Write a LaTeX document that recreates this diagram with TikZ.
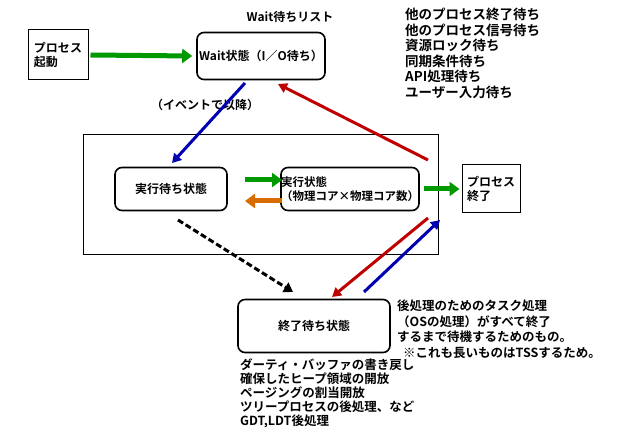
\documentclass[tikz,border=0pt]{standalone}
\usepackage{fontspec}
\setmainfont{Noto Sans CJK JP}[BoldFont={* Bold}]
\usetikzlibrary{arrows.meta}
\begin{document}
\begin{tikzpicture}[x=1pt,y=-1pt,font=\bfseries\fontsize{12}{14}\selectfont,
  sq/.style={draw,line width=1pt,align=left,inner sep=0pt},
  rb/.style={draw,line width=1.6pt,rounded corners=7pt,inner sep=0pt},
  fat/.style={line width=5pt,-{Triangle[length=10pt,width=14pt]}},
  thin/.style={line width=3pt,-{Triangle[length=9pt,width=10pt]}},
  txt/.style={align=left,anchor=north west,inner sep=0pt}]
\useasboundingbox (0,0) rectangle (640,427);
\draw[line width=1pt] (83,135) rectangle (438,255);
\node[sq,minimum width=60pt,minimum height=50pt] (start) at (58,55) {プロセス\\起動};
\node[rb,minimum width=128pt,minimum height=47pt] (wait) at (261,56) {Wait状態（I／O待ち）};
\node (title) at (290,17) {Wait待ちリスト};
\node[txt,font=\bfseries\fontsize{13.5}{15.5}\selectfont] (list) at (405,8) {他のプロセス終了待ち\\他のプロセス信号待ち\\資源ロック待ち\\同期条件待ち\\API処理待ち\\ユーザー入力待ち};
\node[rb,minimum width=112pt,minimum height=43pt] (ready) at (171,189) {実行待ち状態};
\node[rb,minimum width=134pt,minimum height=43pt,align=left,font=\bfseries\fontsize{11.5}{13.5}\selectfont] (run) at (350,189) {実行状態\\（物理コア×物理コア数）};
\node[sq,minimum width=58pt,minimum height=48pt] (end) at (491,189) {プロセス\\終了};
\node[rb,minimum width=152pt,minimum height=53pt] (fin) at (314,326) {終了待ち状態};
\node (ev) at (205,105) {（イベントで以降）};
\node[txt,font=\bfseries\fontsize{12.5}{15.5}\selectfont] (note) at (397,300) {後処理のためのタスク処理\\（OSの処理）がすべて終了\\するまで待機するためのもの。\\\hspace*{6pt}※これも長いものはTSSするため。};
\node[txt,font=\bfseries\fontsize{12.5}{14}\selectfont] (post) at (240,358) {ダーティ・バッファの書き戻し\\確保したヒープ領域の開放\\ページングの割当開放\\ツリープロセスの後処理、など\\GDT,LDT後処理};
\coordinate (b1s) at (245,83); \coordinate (b1e) at (172,163);
\coordinate (r1s) at (428,160); \coordinate (r1e) at (278,84);
\coordinate (g1s) at (245,180); \coordinate (g1e) at (282,180);
\coordinate (o1s) at (282,201); \coordinate (o1e) at (245,201);
\coordinate (ds) at (178,220); \coordinate (de) at (293,292);
\coordinate (r2s) at (428,218); \coordinate (r2e) at (332,297);
\coordinate (b2s) at (364,292); \coordinate (b2e) at (440,220);
\draw[fat,green!60!black] ([xshift=2pt]start.east) -- ([xshift=-4pt]wait.west);
\draw[thin,blue!70!black] (b1s) -- (b1e);
\draw[thin,red!75!black] (r1s) -- (r1e);
\draw[fat,green!60!black] (g1s) -- (g1e);
\draw[fat,orange!85!black] (o1s) -- (o1e);
\draw[fat,green!60!black] ([xshift=4pt]run.east) -- ([xshift=-2pt]end.west);
\draw[line width=3pt,dash pattern=on 6pt off 3pt,-{Triangle[length=9pt,width=11pt]}] (ds) -- (de);
\draw[thin,red!75!black] (r2s) -- (r2e);
\draw[thin,blue!70!black] (b2s) -- (b2e);
\end{tikzpicture}
\end{document}
